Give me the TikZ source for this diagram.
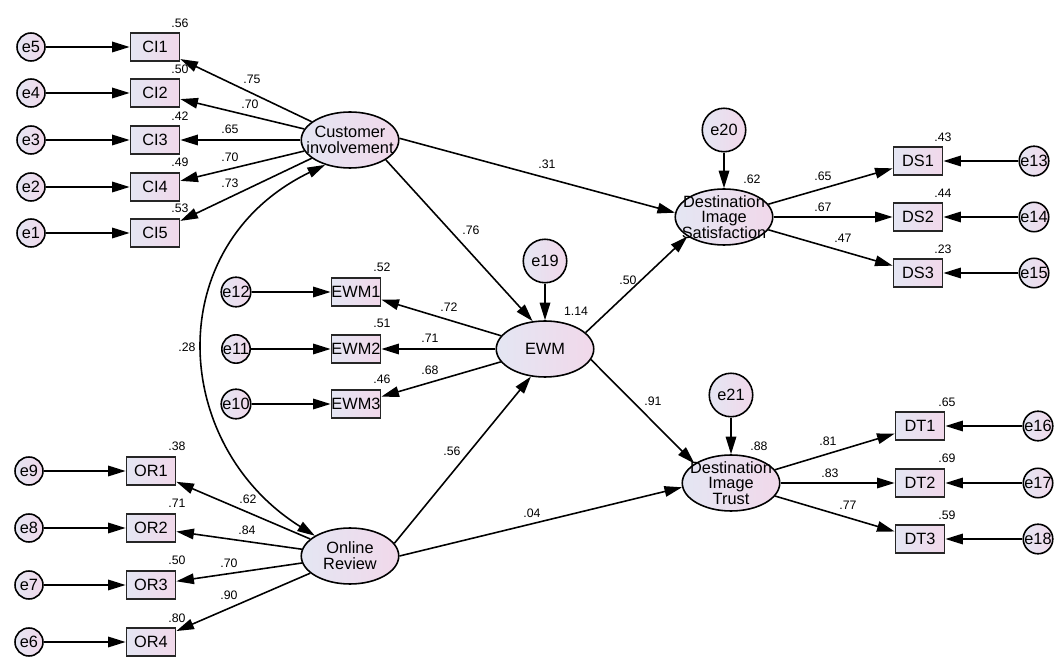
\documentclass[tikz,border=0pt]{standalone}
\usepackage{fontspec}
\setmainfont{Liberation Sans}
\usetikzlibrary{shapes.geometric,arrows.meta}
\definecolor{fillL}{RGB}{228,230,243}
\definecolor{fillR}{RGB}{241,216,234}
\begin{document}
\begin{tikzpicture}[x=0.02cm,y=-0.02cm,
    txt/.style={font=\fontsize{9.3}{9}\selectfont},
    num/.style={font=\fontsize{7}{8}\selectfont,inner sep=0pt},
    err/.style={draw,circle,txt,line width=0.9pt,left color=fillL,right color=fillR,inner sep=0pt,minimum size=0.56cm},
    bigerr/.style={err,minimum size=0.87cm},
    obs/.style={draw=black!85,rectangle,txt,line width=1pt,left color=fillL,right color=fillR,inner sep=0pt,minimum width=0.98cm,minimum height=0.56cm},
    lat/.style={draw,ellipse,line width=0.9pt,left color=fillL,right color=fillR,inner sep=0pt,minimum width=1.95cm,minimum height=1.12cm},
    ltext/.style={txt,align=center,inner sep=0pt},
    arr/.style={-{Triangle[length=10pt,width=6pt]},line width=0.9pt},
    cov/.style={{Triangle[length=10pt,width=6pt]}-{Triangle[length=10pt,width=6pt]},line width=0.9pt}]
    \useasboundingbox (0,0) rectangle (1062,665);
    % latent variables
    \node[lat,label={[ltext]center:Customer\\involvement}] (CI) at (350,140){};
    \node[lat,label={[ltext]center:EWM}] (EWM) at (545,349){};
    \node[lat,label={[ltext]center:Online\\Review}] (OR) at (350,556){};
    \node[lat,label={[ltext]center:Destination\\Image\\Satisfaction}] (DIS) at (724,217){};
    \node[lat,label={[ltext]center:Destination\\Image\\Trust}] (DIT) at (731,483){};
    % customer involvement items
    \node[obs] (CI1) at (155,47){CI1};
    \node[obs] (CI2) at (155,93){CI2};
    \node[obs] (CI3) at (155,140){CI3};
    \node[obs] (CI4) at (155,187){CI4};
    \node[obs] (CI5) at (155,233){CI5};
    \node[err] (e5) at (31,47){e5};
    \node[err] (e4) at (31,93){e4};
    \node[err] (e3) at (31,140){e3};
    \node[err] (e2) at (31,187){e2};
    \node[err] (e1) at (31,233){e1};
    % EWM items
    \node[obs] (EWM1) at (356,292){EWM1};
    \node[obs] (EWM2) at (356,349){EWM2};
    \node[obs] (EWM3) at (356,404){EWM3};
    \node[err] (e12) at (236,292){e12};
    \node[err] (e11) at (236,349){e11};
    \node[err] (e10) at (236,404){e10};
    % online review items
    \node[obs] (OR1) at (151,471){OR1};
    \node[obs] (OR2) at (151,528){OR2};
    \node[obs] (OR3) at (151,585){OR3};
    \node[obs] (OR4) at (151,642){OR4};
    \node[err] (e9) at (29,471){e9};
    \node[err] (e8) at (29,528){e8};
    \node[err] (e7) at (29,585){e7};
    \node[err] (e6) at (29,642){e6};
    % satisfaction items
    \node[obs] (DS1) at (918,161){DS1};
    \node[obs] (DS2) at (918,217){DS2};
    \node[obs] (DS3) at (918,273){DS3};
    \node[err] (e13) at (1034,161){e13};
    \node[err] (e14) at (1034,217){e14};
    \node[err] (e15) at (1034,273){e15};
    % trust items
    \node[obs] (DT1) at (920,426){DT1};
    \node[obs] (DT2) at (920,483){DT2};
    \node[obs] (DT3) at (920,539){DT3};
    \node[err] (e16) at (1038,426){e16};
    \node[err] (e17) at (1038,483){e17};
    \node[err] (e18) at (1038,539){e18};
    % disturbances
    \node[bigerr] (e19) at (545,261){e19};
    \node[bigerr] (e20) at (724,130){e20};
    \node[bigerr] (e21) at (731,395){e21};
    % measurement paths
    \draw[arr] (e5) -- (CI1);
    \draw[arr] (e4) -- (CI2);
    \draw[arr] (e3) -- (CI3);
    \draw[arr] (e2) -- (CI4);
    \draw[arr] (e1) -- (CI5);
    \draw[arr] (CI) -- (CI1);
    \draw[arr] (CI) -- (CI2);
    \draw[arr] (CI) -- (CI3);
    \draw[arr] (CI) -- (CI4);
    \draw[arr] (CI) -- (CI5);
    \draw[arr] (e12) -- (EWM1);
    \draw[arr] (e11) -- (EWM2);
    \draw[arr] (e10) -- (EWM3);
    \draw[arr] (EWM) -- (EWM1);
    \draw[arr] (EWM) -- (EWM2);
    \draw[arr] (EWM) -- (EWM3);
    \draw[arr] (e9) -- (OR1);
    \draw[arr] (e8) -- (OR2);
    \draw[arr] (e7) -- (OR3);
    \draw[arr] (e6) -- (OR4);
    \draw[arr] (OR) -- (OR1);
    \draw[arr] (OR) -- (OR2);
    \draw[arr] (OR) -- (OR3);
    \draw[arr] (OR) -- (OR4);
    \draw[arr] (e13) -- (DS1);
    \draw[arr] (e14) -- (DS2);
    \draw[arr] (e15) -- (DS3);
    \draw[arr] (DIS) -- (DS1);
    \draw[arr] (DIS) -- (DS2);
    \draw[arr] (DIS) -- (DS3);
    \draw[arr] (e16) -- (DT1);
    \draw[arr] (e17) -- (DT2);
    \draw[arr] (e18) -- (DT3);
    \draw[arr] (DIT) -- (DT1);
    \draw[arr] (DIT) -- (DT2);
    \draw[arr] (DIT) -- (DT3);
    % structural paths
    \draw[arr] (CI.331) -- (EWM.114);
    \draw[arr] (CI.2) -- (DIS.175);
    \draw[arr] (OR.16) -- (EWM.243);
    \draw[arr] (OR.0) -- (DIT.185);
    \draw[arr] (EWM.22) -- (DIS.208);
    \draw[arr] (EWM.347) -- (DIT.152);
    \draw[arr] (e19) -- (EWM);
    \draw[arr] (e20) -- (DIS);
    \draw[arr] (e21) -- (DIT);
    \draw[cov] (CI.225) .. controls (160,245) and (170,445) .. (OR.150);
    % estimates
    \node[num] (rCI1) at (180,23){.56};
    \node[num] (rCI2) at (180,69){.50};
    \node[num] (rCI3) at (180,116){.42};
    \node[num] (rCI4) at (180,162){.49};
    \node[num] (rCI5) at (180,208){.53};
    \node[num] (wCI1) at (252,79){.75};
    \node[num] (wCI2) at (250,104){.70};
    \node[num] (wCI3) at (230,129){.65};
    \node[num] (wCI4) at (230,157){.70};
    \node[num] (wCI5) at (230,183){.73};
    \node[num] (rEWM1) at (382,267){.52};
    \node[num] (rEWM2) at (382,323){.51};
    \node[num] (rEWM3) at (382,379){.46};
    \node[num] (wEWM1) at (449,307){.72};
    \node[num] (wEWM2) at (430,338){.71};
    \node[num] (wEWM3) at (430,370){.68};
    \node[num] (rOR1) at (177,446){.38};
    \node[num] (rOR2) at (177,503){.71};
    \node[num] (rOR3) at (177,560){.50};
    \node[num] (rOR4) at (177,618){.80};
    \node[num] (wOR1) at (248,499){.62};
    \node[num] (wOR2) at (247,530){.84};
    \node[num] (wOR3) at (229,563){.70};
    \node[num] (wOR4) at (229,595){.90};
    \node[num] (rDS1) at (943,137){.43};
    \node[num] (rDS2) at (943,193){.44};
    \node[num] (rDS3) at (943,249){.23};
    \node[num] (wDS1) at (823,176){.65};
    \node[num] (wDS2) at (823,207){.67};
    \node[num] (wDS3) at (843,238){.47};
    \node[num] (rDT1) at (947,402){.65};
    \node[num] (rDT2) at (947,458){.69};
    \node[num] (rDT3) at (947,515){.59};
    \node[num] (wDT1) at (828,441){.81};
    \node[num] (wDT2) at (830,473){.83};
    \node[num] (wDT3) at (848,505){.77};
    \node[num] (rEWM) at (576,311){1.14};
    \node[num] (rDIS) at (752,179){.62};
    \node[num] (rDIT) at (759,446){.88};
    \node[num] (bCIEWM) at (471,230){.76};
    \node[num] (bCIDIS) at (547,164){.31};
    \node[num] (bOREWM) at (452,451){.56};
    \node[num] (bORDIT) at (532,513){.04};
    \node[num] (bEWMDIS) at (628,280){.50};
    \node[num] (bEWMDIT) at (653,401){.91};
    \node[num] (cCIOR) at (187,347){.28};
\end{tikzpicture}
\end{document}
